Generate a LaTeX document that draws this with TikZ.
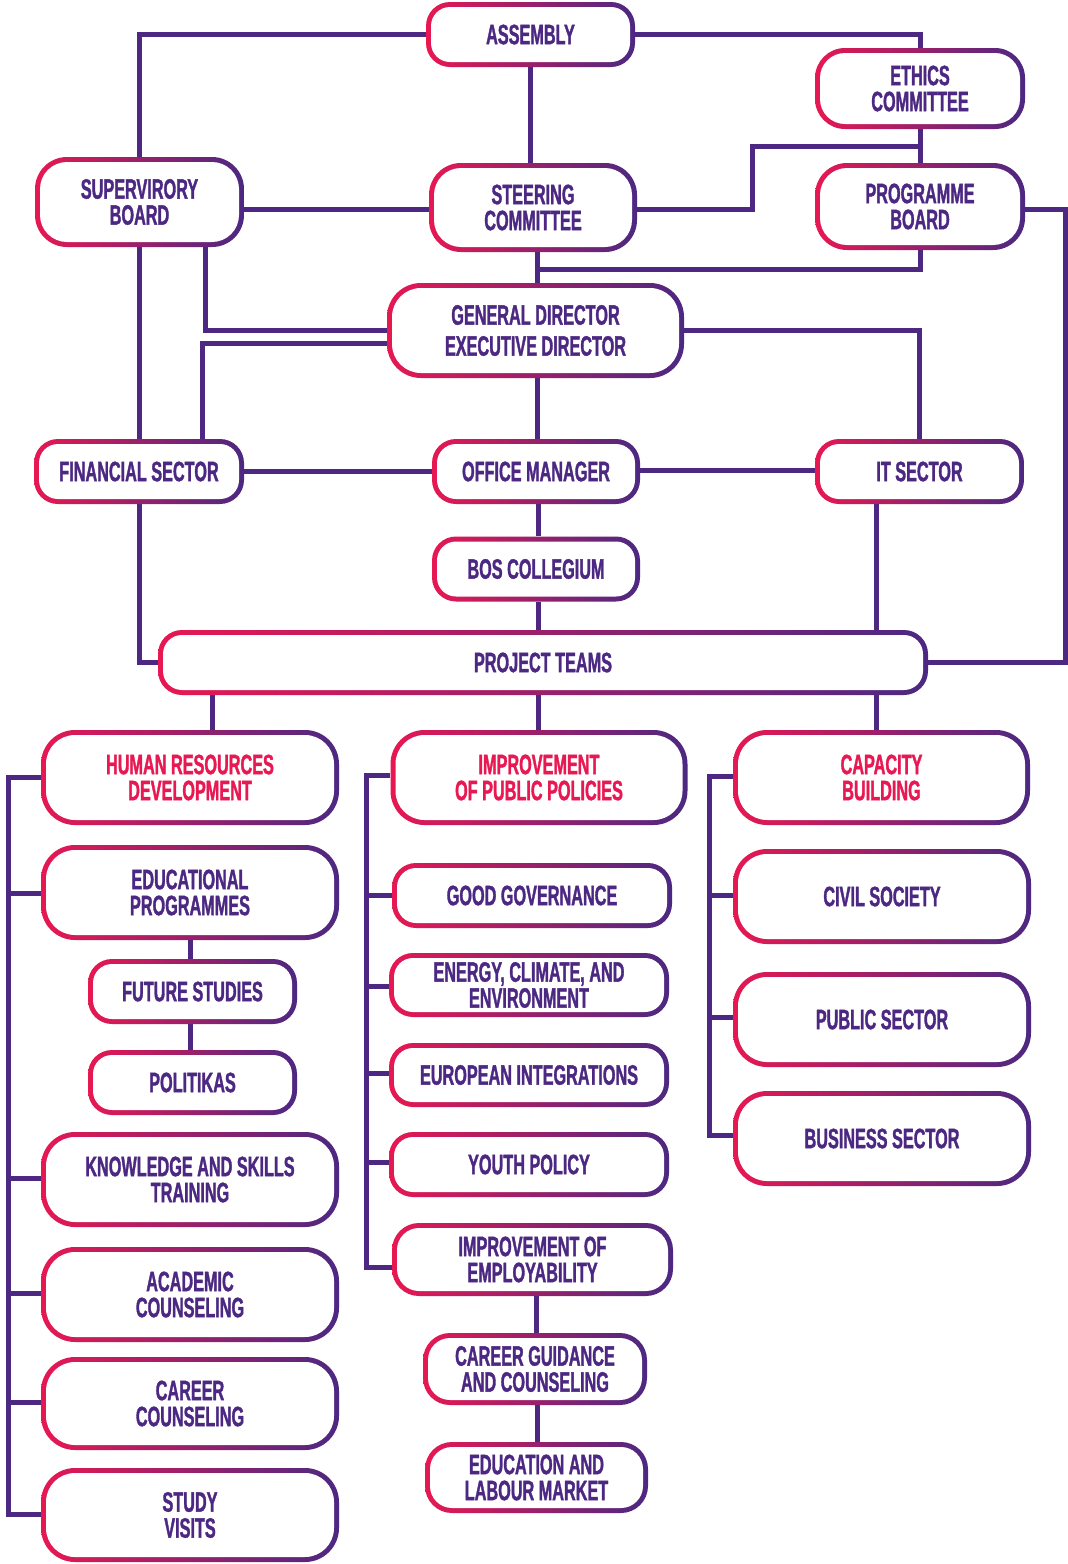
\documentclass[tikz,border=0pt]{standalone}
\usepackage{fontspec}
\newfontfamily\labfont{Liberation Sans}[FakeStretch=0.58, FakeBold=1.2]
\usetikzlibrary{calc}
\definecolor{pk}{RGB}{231,24,82}
\definecolor{pu}{RGB}{76,40,130}
\pgfdeclarelayer{bg}
\pgfsetlayers{bg,main}
\tikzset{
  gbox/.style={rectangle, rounded corners=#1, inner sep=0pt, align=center, text=pu,
    font=\labfont\bfseries\fontsize{28}{26}\selectfont,
    left color=pk, right color=pu,
    path picture={\fill[white, rounded corners=#1-5pt]
      ($(path picture bounding box.south west)+(5pt,5pt)$) rectangle
      ($(path picture bounding box.north east)+(-5pt,-5pt)$);}},
  gbox/.default=24pt,
  head/.style={text=pk},
  tight/.style={font=\labfont\bfseries\fontsize{28}{26}\selectfont},
  loose/.style={font=\labfont\bfseries\fontsize{28}{31}\selectfont},
  conn/.style={draw=pu, line width=5pt},
}
\begin{document}
\begin{tikzpicture}[x=1pt,y=-1pt]
\useasboundingbox (0,0) rectangle (1068,1564);
% top level
\node[gbox=24pt, minimum width=209pt, minimum height=65pt] (asm) at (530.5,34.5) {ASSEMBLY};
\node[gbox=30pt, minimum width=210pt, minimum height=81pt] (eth) at (920,88.5) {ETHICS\\COMMITTEE};
\node[gbox=32pt, minimum width=209pt, minimum height=90pt] (sup) at (139.5,202) {SUPERVIRORY\\BOARD};
\node[gbox=32pt, minimum width=208pt, minimum height=89pt] (ste) at (533,207.5) {STEERING\\COMMITTEE};
\node[gbox=32pt, minimum width=210pt, minimum height=87pt] (prg) at (920,206.5) {PROGRAMME\\BOARD};
\node[gbox=34pt, loose, minimum width=297pt, minimum height=95pt] (gd) at (535.5,330.5) {GENERAL DIRECTOR\\EXECUTIVE DIRECTOR};
\node[gbox=24pt, minimum width=210pt, minimum height=65pt] (fin) at (139,471.5) {FINANCIAL SECTOR};
\node[gbox=24pt, minimum width=208pt, minimum height=65pt] (off) at (536,471.5) {OFFICE MANAGER};
\node[gbox=24pt, minimum width=209pt, minimum height=65pt] (it) at (919.5,471.5) {IT SECTOR};
\node[gbox=24pt, minimum width=208pt, minimum height=65pt] (bos) at (536,569) {BOS COLLEGIUM};
\node[gbox=24pt, minimum width=770pt, minimum height=65pt] (prj) at (543,662.5) {PROJECT TEAMS};
% column heads
\node[gbox=34pt, head, minimum width=298pt, minimum height=95pt] (hrd) at (190,777.5) {HUMAN RESOURCES\\DEVELOPMENT};
\node[gbox=34pt, head, minimum width=297pt, minimum height=95pt] (ipp) at (539,777.5) {IMPROVEMENT\\OF PUBLIC POLICIES};
\node[gbox=34pt, head, minimum width=297pt, minimum height=95pt] (cb) at (881.5,777.5) {CAPACITY\\BUILDING};
% left column
\node[gbox=34pt, minimum width=298pt, minimum height=95pt] (edu) at (190,892.5) {EDUCATIONAL\\PROGRAMMES};
\node[gbox=24pt, minimum width=209pt, minimum height=65pt] (fut) at (192.5,991.5) {FUTURE STUDIES};
\node[gbox=24pt, minimum width=209pt, minimum height=65pt] (pol) at (192.5,1082.5) {POLITIKAS};
\node[gbox=34pt, minimum width=298pt, minimum height=95pt] (kst) at (190,1179.5) {KNOWLEDGE AND SKILLS\\TRAINING};
\node[gbox=34pt, tight, minimum width=298pt, minimum height=95pt] (acd) at (190,1294.5) {ACADEMIC\\COUNSELING};
\node[gbox=34pt, tight, minimum width=298pt, minimum height=93pt] (car) at (190,1403.5) {CAREER\\COUNSELING};
\node[gbox=34pt, tight, minimum width=298pt, minimum height=94pt] (stv) at (190,1515) {STUDY\\VISITS};
% middle column
\node[gbox=24pt, minimum width=280pt, minimum height=65pt] (gg) at (532,895.5) {GOOD GOVERNANCE};
\node[gbox=24pt, tight, minimum width=280pt, minimum height=64pt] (ene) at (529,985) {ENERGY, CLIMATE, AND\\ENVIRONMENT};
\node[gbox=24pt, minimum width=280pt, minimum height=64pt] (eu) at (529,1075) {EUROPEAN INTEGRATIONS};
\node[gbox=24pt, minimum width=280pt, minimum height=65pt] (yp) at (529,1164.5) {YOUTH POLICY};
\node[gbox=27pt, minimum width=281pt, minimum height=73pt] (ioe) at (532.5,1259.5) {IMPROVEMENT OF\\EMPLOYABILITY};
\node[gbox=27pt, tight, minimum width=224pt, minimum height=72pt] (cgc) at (535,1369) {CAREER GUIDANCE\\AND COUNSELING};
\node[gbox=27pt, tight, minimum width=223pt, minimum height=71pt] (elm) at (536.5,1477.5) {EDUCATION AND\\LABOUR MARKET};
% right column
\node[gbox=34pt, minimum width=298pt, minimum height=95pt] (cs) at (882,896.5) {CIVIL SOCIETY};
\node[gbox=34pt, minimum width=298pt, minimum height=95pt] (ps) at (882,1019.5) {PUBLIC SECTOR};
\node[gbox=34pt, minimum width=298pt, minimum height=95pt] (bs) at (882,1138.5) {BUSINESS SECTOR};
% bus coordinates
\coordinate (lb) at (8,0);
\coordinate (mb) at (366,0);
\coordinate (rb) at (709,0);
\begin{pgfonlayer}{bg}
\fill[white] (0,0) rectangle (1068,1564);
\draw[conn] (asm.west) -| (sup.north);
\draw[conn] (asm.south) -- (asm.south |- ste.north);
\draw[conn] (asm.east) -| (eth.north);
\draw[conn] (sup.east |- 0,209) -- (ste.west |- 0,209);
\draw[conn] (ste.east |- 0,209) -| (752,146) -- (eth.south |- 0,146);
\draw[conn] (eth.south) -- (prg.north);
\draw[conn] (prg.south) |- (537,269);
\draw[conn] (ste.south -| 537,0) -- (gd.north -| 537,0);
\draw[conn] (prg.east |- 0,209) -| (1065,662) -- (prj.east |- 0,662);
\draw[conn] (sup.south) -- (sup.south |- fin.north);
\draw[conn] (sup.south -| 205,0) |- (gd.west |- 0,330);
\draw[conn] (gd.west |- 0,343) -| (fin.north -| 202,0);
\draw[conn] (gd.south -| 537,0) -- (off.north -| 537,0);
\draw[conn] (gd.east |- 0,330) -| (it.north);
\draw[conn] (fin.east |- 0,471) -- (off.west |- 0,471);
\draw[conn] (off.east |- 0,470) -- (it.west |- 0,470);
\draw[conn] (off.south -| 538,0) -- (bos.north -| 538,0);
\draw[conn] (bos.south -| 538,0) -- (prj.north -| 538,0);
\draw[conn] (fin.south) |- (prj.west |- 0,662);
\draw[conn] (it.south -| 876,0) -- (prj.north -| 876,0);
\draw[conn] (prj.south -| 212,0) -- (hrd.north -| 212,0);
\draw[conn] (prj.south -| 538,0) -- (ipp.north -| 538,0);
\draw[conn] (prj.south -| 876,0) -- (cb.north -| 876,0);
% left bus
\draw[conn] (hrd.west |- 0,777) -| (lb |- 0,1514) -- (stv.west |- 0,1514);
\draw[conn] (lb |- 0,893) -- (edu.west |- 0,893);
\draw[conn] (lb |- 0,1178) -- (kst.west |- 0,1178);
\draw[conn] (lb |- 0,1293) -- (acd.west |- 0,1293);
\draw[conn] (lb |- 0,1402) -- (car.west |- 0,1402);
\draw[conn] (edu.south -| 190,0) -- (fut.north -| 190,0);
\draw[conn] (fut.south -| 190,0) -- (pol.north -| 190,0);
% middle bus
\draw[conn] (ipp.west |- 0,775) -| (mb |- 0,1267) -- (ioe.west |- 0,1267);
\draw[conn] (mb |- 0,895) -- (gg.west |- 0,895);
\draw[conn] (mb |- 0,986) -- (ene.west |- 0,986);
\draw[conn] (mb |- 0,1073) -- (eu.west |- 0,1073);
\draw[conn] (mb |- 0,1162) -- (yp.west |- 0,1162);
\draw[conn] (ioe.south -| 536,0) -- (cgc.north -| 536,0);
\draw[conn] (cgc.south -| 537,0) -- (elm.north -| 537,0);
% right bus
\draw[conn] (cb.west |- 0,776) -| (rb |- 0,1135) -- (bs.west |- 0,1135);
\draw[conn] (rb |- 0,895) -- (cs.west |- 0,895);
\draw[conn] (rb |- 0,1017) -- (ps.west |- 0,1017);
\end{pgfonlayer}
\end{tikzpicture}
\end{document}
